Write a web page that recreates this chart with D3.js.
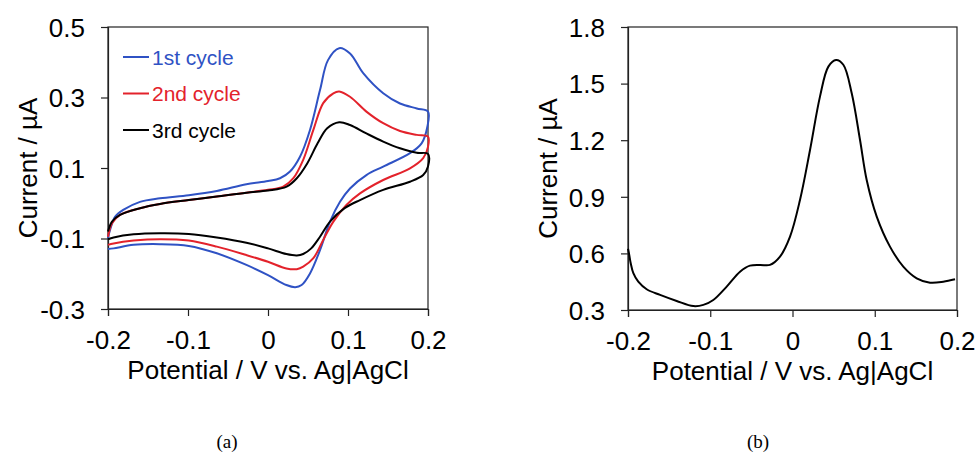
<!DOCTYPE html>
<html>
<head>
<meta charset="utf-8">
<script src="https://cdn.jsdelivr.net/npm/d3@7"></script>
<style>
  html, body { margin: 0; padding: 0; background: #fff; }
  svg { display: block; }
  .sans { font-family: "Liberation Sans", Arial, sans-serif; fill: #000; }
  .serif { font-family: "Liberation Serif", "Times New Roman", serif; fill: #000; }
</style>
</head>
<body>
<svg id="fig" width="978" height="455"></svg>
<script>
// ---- Cyclic voltammograms (a): [potential V, current µA], forward then reverse sweep
const cycle1 = [
  [-0.2, -0.100], [-0.1975, -0.076], [-0.191, -0.038], [-0.181, -0.019], [-0.16, 0.004],
  [-0.135, 0.014], [-0.099, 0.023], [-0.064, 0.035], [-0.027, 0.054], [0.0, 0.063],
  [0.015, 0.071], [0.0275, 0.090], [0.04, 0.132], [0.0525, 0.208], [0.065, 0.321],
  [0.075, 0.406], [0.089, 0.440], [0.1025, 0.425], [0.119, 0.369], [0.144, 0.312],
  [0.165, 0.283], [0.186, 0.269], [0.2, 0.260],
  [0.199, 0.215], [0.192, 0.170], [0.1775, 0.142], [0.144, 0.104], [0.123, 0.080],
  [0.1025, 0.042], [0.09, 0.004], [0.0775, -0.052], [0.065, -0.133], [0.0525, -0.199],
  [0.042, -0.232], [0.034, -0.238], [0.023, -0.232], [0.0, -0.204], [-0.027, -0.175],
  [-0.064, -0.142], [-0.099, -0.121], [-0.135, -0.116], [-0.168, -0.118], [-0.193, -0.128],
  [-0.2, -0.130]
];
const cycle2 = [
  [-0.2, -0.095], [-0.195, -0.057], [-0.185, -0.033], [-0.16, -0.014], [-0.135, -0.002],
  [-0.099, 0.009], [-0.064, 0.019], [-0.027, 0.030], [0.0, 0.038], [0.019, 0.047],
  [0.0317, 0.071], [0.044, 0.123], [0.0567, 0.208], [0.069, 0.284], [0.0817, 0.312],
  [0.089, 0.317], [0.1025, 0.302], [0.123, 0.260], [0.144, 0.227], [0.165, 0.205],
  [0.186, 0.194], [0.2, 0.189],
  [0.2, 0.160], [0.194, 0.128], [0.1775, 0.099], [0.144, 0.066], [0.115, 0.028],
  [0.098, -0.005], [0.0817, -0.052], [0.069, -0.104], [0.0567, -0.156], [0.044, -0.180],
  [0.036, -0.187], [0.023, -0.185], [0.0, -0.166], [-0.027, -0.147], [-0.064, -0.123],
  [-0.099, -0.106], [-0.135, -0.102], [-0.168, -0.106], [-0.193, -0.114], [-0.2, -0.118]
];
const cycle3 = [
  [-0.2, -0.080], [-0.195, -0.052], [-0.185, -0.033], [-0.16, -0.014], [-0.135, -0.002],
  [-0.099, 0.009], [-0.064, 0.019], [-0.027, 0.030], [0.0, 0.036], [0.0233, 0.047],
  [0.036, 0.071], [0.049, 0.113], [0.062, 0.170], [0.074, 0.213], [0.089, 0.230],
  [0.1025, 0.222], [0.123, 0.198], [0.144, 0.175], [0.165, 0.156], [0.186, 0.143],
  [0.2, 0.140],
  [0.2, 0.104], [0.194, 0.080], [0.1775, 0.061], [0.144, 0.038], [0.115, 0.009],
  [0.0958, -0.014], [0.0775, -0.052], [0.065, -0.095], [0.054, -0.128], [0.044, -0.144],
  [0.036, -0.148], [0.023, -0.144], [0.0, -0.128], [-0.027, -0.112], [-0.064, -0.097],
  [-0.099, -0.087], [-0.135, -0.085], [-0.168, -0.088], [-0.193, -0.097], [-0.2, -0.102]
];
const cycleNames = ["1st cycle", "2nd cycle", "3rd cycle"];
const cycleColors = ["#2f52c4", "#e3222b", "#000000"];

// ---- Differential pulse voltammogram (b): [potential V, current µA]
const dpv = [
  [-0.2, 0.625], [-0.1988, 0.600], [-0.1967, 0.548], [-0.1935, 0.495], [-0.1875, 0.450],
  [-0.1773, 0.410], [-0.161, 0.380], [-0.1408, 0.348], [-0.1206, 0.321], [-0.1084, 0.327],
  [-0.0963, 0.353], [-0.08, 0.424], [-0.0638, 0.503], [-0.0517, 0.535], [-0.0395, 0.539],
  [-0.0274, 0.539], [-0.0152, 0.583], [-0.003, 0.689], [0.0091, 0.883], [0.0213, 1.148],
  [0.0334, 1.431], [0.0436, 1.590], [0.0529, 1.625], [0.0618, 1.600], [0.072, 1.449],
  [0.0821, 1.201], [0.0902, 0.989], [0.1024, 0.795], [0.1185, 0.636], [0.1347, 0.530],
  [0.151, 0.468], [0.1672, 0.445], [0.1833, 0.450], [0.1976, 0.463]
];

// ---- Axis ticks
const xTicks = [-0.2, -0.1, 0, 0.1, 0.2];
const yTicksA = [-0.3, -0.1, 0.1, 0.3, 0.5];
const yTicksB = [0.3, 0.6, 0.9, 1.2, 1.5, 1.8];
const xTitle = "Potential / V vs. Ag|AgCl";
const yTitle = "Current / µA";

const svg = d3.select("#fig");

// plain hyphen for negatives, "0" for zero
const fmt = d => (d === 0 ? "0" : d3.format(".1f")(d).replace("\u2212", "-"));

function drawPanel(box, yDomain, yTicks, caption) {
  const x = d3.scaleLinear().domain([-0.2, 0.2]).range([box.left, box.right]);
  const y = d3.scaleLinear().domain(yDomain).range([box.bottom, box.top]);
  const g = svg.append("g");

  // frame
  g.append("rect")
    .attr("x", box.left).attr("y", box.top)
    .attr("width", box.right - box.left).attr("height", box.bottom - box.top)
    .attr("fill", "none").attr("stroke", "#222").attr("stroke-width", 1.2);

  const xAxis = g.append("g")
    .attr("transform", `translate(0,${box.bottom})`)
    .call(d3.axisBottom(x).tickValues(xTicks).tickSize(7).tickPadding(15).tickFormat(fmt));
  const yAxis = g.append("g")
    .attr("transform", `translate(${box.left},0)`)
    .call(d3.axisLeft(y).tickValues(yTicks).tickSize(7).tickPadding(16).tickFormat(fmt));
  [xAxis, yAxis].forEach(a => {
    a.attr("font-family", null).attr("font-size", null);
    a.select(".domain").attr("stroke", "#222").attr("stroke-width", 1.2);
    a.selectAll(".tick line").attr("stroke", "#222").attr("stroke-width", 1.2);
    a.selectAll(".tick text")
      .attr("class", "sans")
      .style("font-size", "26px").attr("fill", "#000");
  });
  yAxis.selectAll(".tick text").attr("dy", "0.36em");
  xAxis.selectAll(".tick text").attr("dy", "0.71em");

  g.append("text").attr("class", "sans")
    .attr("x", (box.left + box.right) / 2).attr("y", box.bottom + 70)
    .attr("text-anchor", "middle").style("font-size", "26px")
    .text(xTitle);
  g.append("text").attr("class", "sans")
    .attr("transform", `translate(${box.left - box.ytOffset},${(box.top + box.bottom) / 2}) rotate(-90)`)
    .attr("text-anchor", "middle").style("font-size", "26px")
    .text(yTitle);

  g.append("text").attr("class", "serif")
    .attr("x", box.capX).attr("y", 448)
    .attr("text-anchor", "middle")
    .style("font-size", "19px")
    .text(caption);

  return { x, y, g };
}

// Panel (a): cyclic voltammetry
const pa = drawPanel({ left: 108, right: 428, top: 27, bottom: 309, ytOffset: 71, capX: 227 },
  [-0.3, 0.5], yTicksA, "(a)");
const lineA = d3.line().x(d => pa.x(d[0])).y(d => pa.y(d[1])).curve(d3.curveCatmullRom.alpha(0.5));
[cycle1, cycle2, cycle3].forEach((c, i) => {
  pa.g.append("path").datum(c)
    .attr("d", lineA).attr("fill", "none")
    .attr("stroke", cycleColors[i]).attr("stroke-width", 2)
    .attr("stroke-linejoin", "round");
});

// legend
const leg = pa.g.append("g");
cycleNames.forEach((name, i) => {
  const yy = 57 + i * 36.5;
  leg.append("line").attr("x1", 123).attr("x2", 149).attr("y1", yy).attr("y2", yy)
    .attr("stroke", cycleColors[i]).attr("stroke-width", 2);
  leg.append("text").attr("class", "sans")
    .attr("x", 152).attr("y", yy).attr("dy", "0.36em")
    .style("font-size", "21px").style("fill", cycleColors[i])
    .text(name);
});

// Panel (b): differential pulse voltammetry
const pb = drawPanel({ left: 628, right: 957, top: 27, bottom: 310, ytOffset: 71, capX: 758 },
  [0.3, 1.8], yTicksB, "(b)");
const lineB = d3.line().x(d => pb.x(d[0])).y(d => pb.y(d[1])).curve(d3.curveCatmullRom.alpha(0.5));
pb.g.append("path").datum(dpv)
  .attr("d", lineB).attr("fill", "none")
  .attr("stroke", "#000").attr("stroke-width", 2)
  .attr("stroke-linejoin", "round");
</script>
</body>
</html>
